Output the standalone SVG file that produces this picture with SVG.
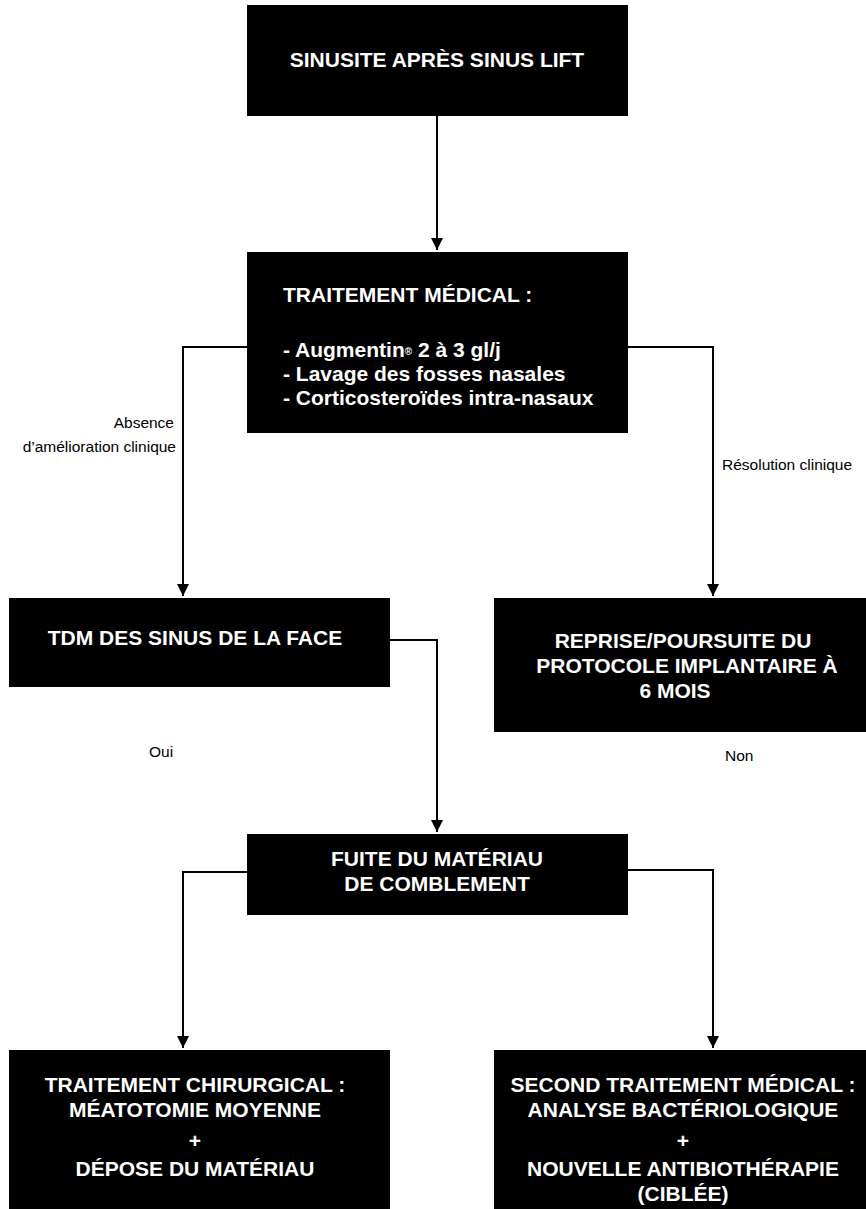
<svg xmlns="http://www.w3.org/2000/svg" width="866" height="1209" viewBox="0 0 866 1209">
<defs>
<style>
.box{fill:#000;}
.t{font-family:"Liberation Sans",Arial,sans-serif;font-weight:bold;font-size:21px;fill:#fff;}
.m{text-anchor:middle;}
.lbl{font-family:"Liberation Sans",Arial,sans-serif;font-size:15.5px;fill:#000;}
.c{fill:none;stroke:#000;stroke-width:2;}
</style>
<marker id="ah" viewBox="0 0 12 12" refX="12" refY="6" markerWidth="12" markerHeight="12" markerUnits="userSpaceOnUse" orient="auto">
<path d="M0,0 L12,6 L0,12 Z" fill="#000"/>
</marker>
</defs>
<rect width="866" height="1209" fill="#fff"/>
<g id="connectors">
<path class="c" d="M437,116 V250" marker-end="url(#ah)"/>
<path class="c" d="M247,347 H183 V596" marker-end="url(#ah)"/>
<path class="c" d="M628,347 H713 V596" marker-end="url(#ah)"/>
<path class="c" d="M390,640 H437 V832" marker-end="url(#ah)"/>
<path class="c" d="M247,872 H183 V1048" marker-end="url(#ah)"/>
<path class="c" d="M628,870 H713 V1048" marker-end="url(#ah)"/>
<text class="lbl" x="174" y="428" text-anchor="end">Absence</text>
<text class="lbl" x="176" y="452" text-anchor="end">d’amélioration clinique</text>
<text class="lbl" x="722" y="470">Résolution clinique</text>
<text class="lbl" x="149" y="757">Oui</text>
<text class="lbl" x="725" y="761">Non</text>
</g>
<g id="n1">
<rect class="box" x="247" y="5" width="381" height="111"/>
<text class="t m" x="437" y="67">SINUSITE APRÈS SINUS LIFT</text>
</g>
<g id="n2">
<rect class="box" x="247" y="252" width="381" height="181"/>
<text class="t" x="283" y="302">TRAITEMENT MÉDICAL :</text>
<text class="t" x="283" y="357">- Augmentin<tspan font-size="10" dy="-2">®</tspan><tspan dy="2"> 2 à 3 gl/j</tspan></text>
<text class="t" x="283" y="381">- Lavage des fosses nasales</text>
<text class="t" x="283" y="405">- Corticosteroïdes intra-nasaux</text>
</g>
<g id="n3">
<rect class="box" x="9" y="598" width="381" height="89"/>
<text class="t m" x="195" y="645">TDM DES SINUS DE LA FACE</text>
</g>
<g id="n4">
<rect class="box" x="494" y="598" width="372" height="134"/>
<text class="t m" x="683" y="648">REPRISE/POURSUITE DU</text>
<text class="t m" x="687" y="673">PROTOCOLE IMPLANTAIRE À</text>
<text class="t m" x="675" y="698">6 MOIS</text>
</g>
<g id="n5">
<rect class="box" x="247" y="834" width="381" height="81"/>
<text class="t m" x="437" y="866">FUITE DU MATÉRIAU</text>
<text class="t m" x="437" y="891">DE COMBLEMENT</text>
</g>
<g id="n6">
<rect class="box" x="9" y="1050" width="381" height="159"/>
<text class="t m" x="195" y="1092">TRAITEMENT CHIRURGICAL :</text>
<text class="t m" x="195" y="1117">MÉATOTOMIE MOYENNE</text>
<text class="t m" x="195" y="1148">+</text>
<text class="t m" x="195" y="1176">DÉPOSE DU MATÉRIAU</text>
</g>
<g id="n7">
<rect class="box" x="494" y="1050" width="372" height="159"/>
<text class="t m" x="683" y="1092">SECOND TRAITEMENT MÉDICAL :</text>
<text class="t m" x="683" y="1117">ANALYSE BACTÉRIOLOGIQUE</text>
<text class="t m" x="683" y="1148">+</text>
<text class="t m" x="683" y="1176">NOUVELLE ANTIBIOTHÉRAPIE</text>
<text class="t m" x="683" y="1201">(CIBLÉE)</text>
</g>
</svg>
